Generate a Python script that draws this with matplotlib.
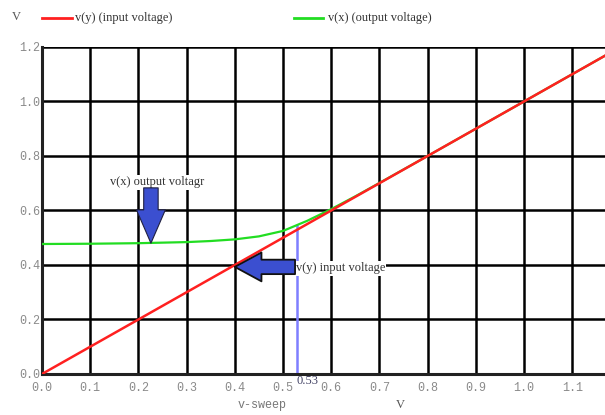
import matplotlib
matplotlib.use("Agg")
import matplotlib.pyplot as plt
import numpy as np

# sweep data
v_sweep = [0.0, 0.1, 0.2, 0.3, 0.35, 0.4, 0.45, 0.5, 0.55, 0.6, 0.65, 0.7, 0.8, 1.0, 1.168]
v_in = [0.0, 0.1, 0.2, 0.3, 0.35, 0.4, 0.45, 0.5, 0.55, 0.6, 0.65, 0.7, 0.8, 1.0, 1.168]
v_out = [0.477, 0.478, 0.480, 0.484, 0.488, 0.494, 0.505, 0.525, 0.562, 0.605, 0.652, 0.701, 0.80, 1.0, 1.168]

marker_x = 0.53
marker_top = 0.543

x_ticks = [0.0, 0.1, 0.2, 0.3, 0.4, 0.5, 0.6, 0.7, 0.8, 0.9, 1.0, 1.1]
y_ticks = [0.0, 0.2, 0.4, 0.6, 0.8, 1.0, 1.2]

SERIF = "Liberation Serif"
MONO = "Liberation Mono"

fig = plt.figure(figsize=(6.05, 4.15), dpi=100)
ax = fig.add_axes([0.0694, 0.0988, 0.9306, 0.788])

ax.set_xticks(x_ticks)
ax.set_yticks(y_ticks)
ax.set_xlim(0, 1.168)
ax.set_ylim(0, 1.2)
ax.set_xticklabels([f"{t:.1f}" for t in x_ticks], fontfamily=MONO, fontsize=8.5, color="#8a8a8a")
ax.set_yticklabels([f"{t:.1f}" for t in y_ticks], fontfamily=MONO, fontsize=8.5, color="#8a8a8a")
ax.tick_params(length=0, pad=6)
ax.tick_params(axis="y", pad=1)
ax.grid(True, color="black", lw=1.8)
ax.set_axisbelow(True)
for side in ["top", "right"]:
    ax.spines[side].set_visible(False)
for side in ["left", "bottom"]:
    ax.spines[side].set_linewidth(2.2)
    ax.spines[side].set_color("#222222")

ax.plot(v_sweep, v_out, color="#22dd22", lw=1.6, zorder=3)
ax.plot(v_sweep, v_in, color="#ff2020", lw=1.8, zorder=4)

# cursor marker
ax.plot([marker_x, marker_x], [0, marker_top], color="#7f7fff", lw=1.8, zorder=2)
ax.text(marker_x + 0.02, -0.005, f"{marker_x:.2f}", fontfamily=SERIF, fontsize=9,
        color="#444466", ha="center", va="top", zorder=6)

# annotations
ax.text(0.142, 0.703, "v(x) output voltagr", fontfamily=SERIF, fontsize=9, color="#333333",
        ha="left", va="center", zorder=5,
        bbox=dict(facecolor="white", edgecolor="none", pad=1))
ax.annotate("", xy=(0.226, 0.480), xytext=(0.226, 0.683),
            arrowprops=dict(arrowstyle="simple,head_length=1.5,head_width=1.3,tail_width=0.65",
                            mutation_scale=16, facecolor="#3b4fd0", edgecolor="#202040",
                            lw=0.8, shrinkA=0, shrinkB=0), zorder=6)

ax.text(0.526, 0.388, "v(y) input voltage", fontfamily=SERIF, fontsize=9, color="#333333",
        ha="left", va="center", zorder=5,
        bbox=dict(facecolor="white", edgecolor="none", pad=1))
ax.annotate("", xy=(0.400, 0.393), xytext=(0.525, 0.393),
            arrowprops=dict(arrowstyle="simple,head_length=1.2,head_width=1.3,tail_width=0.65",
                            mutation_scale=16, facecolor="#3b4fd0", edgecolor="#111111",
                            lw=1.3, shrinkA=0, shrinkB=0), zorder=6)

# axis labels
fig.text(262 / 605, 1 - 405 / 415, "v-sweep", fontfamily=MONO, fontsize=8.5, color="#777777",
         ha="center", va="center")
fig.text(400 / 605, 1 - 405 / 415, "V", fontfamily=SERIF, fontsize=9, color="#555555",
         ha="center", va="center")

# legend row
fig.text(16 / 605, 1 - 17 / 415, "V", fontfamily=SERIF, fontsize=9, color="#555555",
         ha="center", va="center")
fig.add_artist(plt.Line2D([42 / 605, 72 / 605], [1 - 18 / 415] * 2, color="#ff2020", lw=2))
fig.text(75 / 605, 1 - 18 / 415, "v(y) (input voltage)", fontfamily=SERIF, fontsize=9,
         color="#333333", ha="left", va="center")
fig.add_artist(plt.Line2D([294 / 605, 323 / 605], [1 - 18 / 415] * 2, color="#22dd22", lw=2))
fig.text(328 / 605, 1 - 18 / 415, "v(x) (output voltage)", fontfamily=SERIF, fontsize=9,
         color="#333333", ha="left", va="center")

fig.savefig("out.png", dpi=100)
